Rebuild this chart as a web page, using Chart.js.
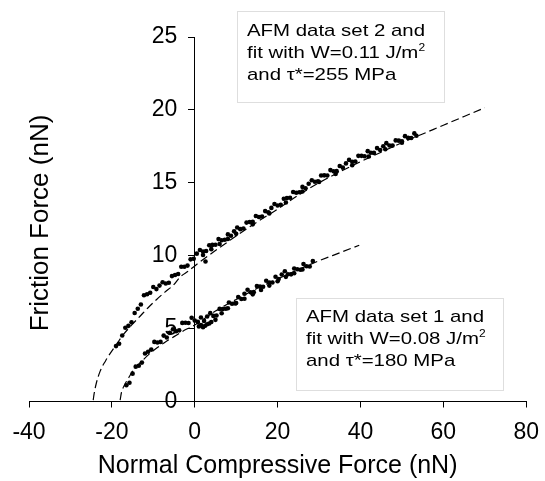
<!DOCTYPE html>
<html>
<head>
<meta charset="utf-8">
<script src="https://cdn.jsdelivr.net/npm/chart.js@4.4.1/dist/chart.umd.min.js"></script>
<style>
  html, body { margin: 0; padding: 0; background: #fff; }
  #wrap { position: relative; width: 545px; height: 481px; }
  .note {
    position: absolute;
    background: #fff;
    border: 1px solid #dedede;
    box-sizing: border-box;
    font-family: 'Liberation Sans', Arial, sans-serif;
    font-size: 17px;
    line-height: 22px;
    color: #000;
    white-space: nowrap;
  }
  .note span { display: block; transform: scaleX(1.2); transform-origin: left center; }
  .note sup { font-size: 10px; line-height: 0; vertical-align: 7px; }
</style>
</head>
<body>
<div id="wrap">
  <canvas id="c"></canvas>
  <div class="note" style="left:237px;top:11px;width:208px;height:92px;padding:8px 0 0 9px;">
    <span>AFM data set 2 and</span>
    <span>fit with W=0.11 J/m<sup>2</sup></span>
    <span>and τ*=255 MPa</span>
  </div>
  <div class="note" style="left:296px;top:298px;width:208px;height:93px;padding:7px 0 0 9px;">
    <span>AFM data set 1 and</span>
    <span>fit with W=0.08 J/m<sup>2</sup></span>
    <span>and τ*=180 MPa</span>
  </div>
</div>
<script>
// Данные (нН)
const set2X = [-19, -18.25, -17.5, -16.75, -16, -15.25, -14.5, -13.75, -13, -12.25, -11.5, -10.75,
  -10, -9.25, -8.5, -7.75, -7, -6.25, -5.5, -4.75, -4, -3.25, -2.5, -1.75, -1, -0.25,
  0.5, 1.25, 2, 2.75, 3.5, 4.25, 5, 5.75, 6.5, 7.25, 8, 8.75, 9.5, 10.25, 11, 11.75,
  12.5, 13.25, 14, 14.75, 15.5, 16.25, 17, 17.75, 18.5, 19.25, 20, 20.75, 21.5, 22.25,
  23, 23.75, 24.5, 25.25, 26, 26.75, 27.5, 28.25, 29, 29.75, 30.5, 31.25, 32, 32.75,
  33.5, 34.25, 35, 35.75, 36.5, 37.25, 38, 38.75, 39.5, 40.25, 41, 41.75, 42.5, 43.25,
  44, 44.75, 45.5, 46.25, 47, 47.75, 48.5, 49.25, 50, 50.75, 51.5, 52.25, 53, 53.5,
  2, 2.6, 4, 6, 8, 10, 14, 18, 22, 26, 30, 34, 38, 42, 46, 50];
const set2Y = [3.80, 3.96, 4.53, 5.06, 5.19, 5.44, 6.07, 6.36, 6.65, 7.29, 7.36, 7.46,
  7.85, 7.71, 7.95, 8.18, 8.09, 8.15, 8.60, 8.68, 8.75, 9.24, 9.24, 9.32, 9.75, 9.79,
  10.14, 10.39, 10.28, 10.32, 10.72, 10.74, 10.75, 11.14, 11.06, 11.09, 11.46, 11.37, 11.67, 11.93, 11.82, 11.87,
  12.27, 12.31, 12.32, 12.72, 12.65, 12.69, 13.06, 12.98, 13.28, 13.55, 13.44, 13.49, 13.91, 13.95,
  13.97, 14.37, 14.32, 14.35, 14.72, 14.63, 14.93, 15.18, 15.07, 15.11, 15.50, 15.51, 15.50, 15.87,
  15.79, 15.80, 16.15, 16.04, 16.33, 16.57, 16.44, 16.46, 16.85, 16.85, 16.82, 17.17, 17.06, 17.05,
  17.38, 17.25, 17.51, 17.72, 17.56, 17.55, 17.91, 17.89, 17.85, 18.20, 18.08, 18.07, 18.39, 18.23,
  10.05, 9.6, 10.45, 10.8, 11.15, 11.5, 12.15, 12.9, 13.65, 14.4, 15.05, 15.6, 16.2, 16.8, 17.3, 17.75];

const set1X = [-16.5, -15.75, -15, -14.25, -13.5, -12.75, -12, -11.25, -10.5, -9.75, -9, -8.25,
  -7.5, -6.75, -6, -5.25, -4.5, -3.75, -3, -2.25, -1.5, -0.75, 0, 0.75, 1.5, 2.25, 3, 3.75,
  4.5, 5.25, 6, 6.75, 7.5, 8.25, 9, 9.75, 10.5, 11.25, 12, 12.75, 13.5, 14.25, 15, 15.75,
  16.5, 17.25, 18, 18.75, 19.5, 20.25, 21, 21.75, 22.5, 23.25, 24, 24.75, 25.5, 26.25, 27, 27.75, 28.5,
  1, 1.5, 2, 2.5, 3, 3.5, 4, 5, 6.5, 8, 10, 12, 14, 16, 18, 20, 22, 24, 26];
const set1Y = [1.12, 1.29, 1.91, 2.39, 2.45, 2.67, 3.29, 3.41, 3.56, 4.09, 4.05, 4.09,
  4.52, 4.39, 4.71, 4.96, 4.82, 4.88, 5.39, 5.40, 5.38, 5.74, 5.55, 5.46, 5.76, 5.53, 5.83, 6.06,
  5.87, 5.90, 6.35, 6.34, 6.36, 6.79, 6.70, 6.73, 7.16, 7.03, 7.39, 7.67, 7.49, 7.50, 7.92, 7.88,
  7.87, 8.28, 8.16, 8.16, 8.56, 8.40, 8.71, 8.93, 8.73, 8.72, 9.12, 9.07, 9.04, 9.43, 9.28, 9.26, 9.63,
  5.15, 5.25, 5.1, 5.2, 5.3, 5.35, 5.45, 5.6, 6.05, 6.4, 6.75, 7.05, 7.35, 7.65, 7.95, 8.25, 8.55, 8.8, 9.05];

// Кривые аппроксимации (штрих)
const fit2X = [-24.5, -24.3, -23.8, -22.8, -21.5, -20.4, -18.7, -17.2, -15.2, -13.2, -11.2, -9.2,
  -7.2, -5.1, -3.5, -1.5, 0, 5, 10, 15, 20, 25, 30, 35, 40, 45, 50, 55, 60, 65, 70];
const fit2Y = [0.1, 0.5, 1.2, 2.1, 2.8, 3.3, 4.0, 4.6, 5.25, 5.85, 6.45, 7.0,
  7.5, 8.0, 8.55, 8.95, 9.3, 10.35, 11.35, 12.3, 13.2, 14.15, 15.0, 15.75, 16.45, 17.1, 17.75, 18.35, 18.95, 19.55, 20.15];

const fit1X = [-18, -17.7, -17, -16, -14.7, -13, -11, -9, -7, -5, -3, -1, 0,
  5, 10, 15, 20, 25, 30, 35, 39.7];
const fit1Y = [0.1, 0.6, 1.1, 1.6, 2.2, 2.7, 3.25, 3.7, 4.1, 4.45, 4.8, 5.1, 5.25,
  6.2, 7.0, 7.75, 8.4, 9.05, 9.65, 10.2, 10.72];

const xRange = [-40, 80];
const yRange = [0, 25];
const xTitle = 'Normal Compressive Force (nN)';
const yTitle = 'Friction Force (nN)';

const FONT = "'Liberation Sans', Arial, sans-serif";

function pts(xs, ys) {
    return xs.map((x, i) => ({ x, y: ys[i] }));
}

// Подпись оси Y рисуем сами — ось стоит на x = 0
const yTitlePlugin = {
    id: 'yTitle',
    afterDraw(chart) {
        const ctx = chart.ctx;
        ctx.save();
        ctx.translate(41, 223);
        ctx.rotate(-Math.PI / 2);
        ctx.font = '26px ' + FONT;
        ctx.fillStyle = '#000';
        ctx.textAlign = 'center';
        ctx.textBaseline = 'middle';
        ctx.fillText(yTitle, 0, 0);
        ctx.restore();
    },
};

const dotStyle = {
    type: 'scatter',
    pointRadius: 2.3,
    pointHoverRadius: 2.3,
    pointBackgroundColor: '#000',
    pointBorderWidth: 0,
    showLine: false,
};

const dashStyle = {
    type: 'scatter',
    showLine: true,
    borderColor: '#000',
    borderWidth: 1.2,
    borderDash: [8, 4],
    pointRadius: 0,
    cubicInterpolationMode: 'monotone',
    fill: false,
};

const yTickFont = { family: FONT, size: 23 };

new Chart(document.getElementById('c'), {
    type: 'scatter',
    data: {
        datasets: [
            { ...dashStyle, label: 'fit 2', data: pts(fit2X, fit2Y) },
            { ...dashStyle, label: 'fit 1', data: pts(fit1X, fit1Y) },
            { ...dotStyle, label: 'AFM data set 2', data: pts(set2X, set2Y) },
            { ...dotStyle, label: 'AFM data set 1', data: pts(set1X, set1Y) },
        ],
    },
    options: {
        responsive: true,
        maintainAspectRatio: false,
        animation: false,
        layout: { padding: { left: 29, right: 0, top: 37, bottom: 0 } },
        plugins: {
            legend: { display: false },
            tooltip: { enabled: false },
        },
        scales: {
            x: {
                type: 'linear',
                position: 'bottom',
                min: xRange[0],
                max: xRange[1],
                // высокий lineHeight опускает подписи, не раздвигая поля по бокам
                ticks: { stepSize: 20, color: '#000', font: { family: FONT, size: 23, lineHeight: 1.63 }, padding: 6 },
                grid: { drawOnChartArea: false, drawTicks: true, tickLength: 6, color: '#000' },
                border: { color: '#000', width: 1 },
                title: { display: true, text: xTitle, color: '#000', font: { family: FONT, size: 25 }, padding: { top: -6, bottom: 0 } },
            },
            // сама ось на x = 0: линия и засечки
            y: {
                type: 'linear',
                position: { x: 0 },
                min: yRange[0],
                max: yRange[1],
                ticks: { stepSize: 5, display: false },
                grid: { drawOnChartArea: false, drawTicks: true, tickLength: 6, color: '#000' },
                border: { color: '#000', width: 1 },
            },
            // подписи делений оси Y чуть левее оси
            yLabels: {
                type: 'linear',
                axis: 'y',
                position: { x: -4.2 },
                min: yRange[0],
                max: yRange[1],
                ticks: { stepSize: 5, color: '#000', font: yTickFont },
                grid: { display: false },
                border: { display: false },
            },
        },
    },
    plugins: [yTitlePlugin],
});
</script>
</body>
</html>
